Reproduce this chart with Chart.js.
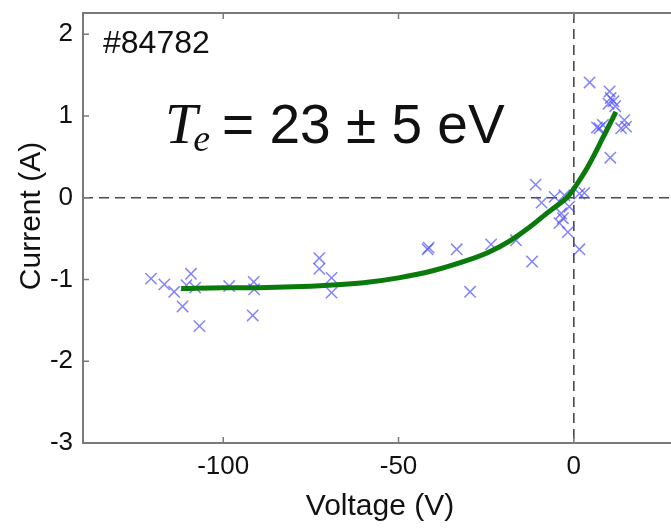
<!DOCTYPE html>
<html>
<head>
<meta charset="utf-8">
<script src="https://cdn.jsdelivr.net/npm/chart.js@4.4.0/dist/chart.umd.min.js"></script>
<style>
  html, body { margin: 0; padding: 0; background: #fff; overflow: hidden; }
  #wrap { width: 700px; height: 531px; }
</style>
</head>
<body>
<div id="wrap"><canvas id="c" width="700" height="531"></canvas></div>
<script>
// measured probe points (voltage in V, current in A)
const voltage = [-120.6, -116.8, -114.0, -111.6, -109.2, -106.8, -110.5, -108.0, -98.3, -91.3, -91.2, -91.6,
  -72.6, -72.6, -69.1, -69.1, -41.4, -41.7, -33.4, -29.6, -23.6, -16.5, -11.9, -10.9, -9.2, -5.5,
  -2.7, 1.6, 3.0, -3.6, -3.1, -4.1, -1.7, 1.6, -1.3, 4.5, 10.2, 10.5, 11.3, 9.9, 11.8, 7.3, 8.3,
  14.4, 14.9, 13.5, 10.4, 6.6];
const current = [-0.99, -1.06, -1.15, -1.33, -0.93, -1.57, -1.07, -1.10, -1.08, -1.03, -1.12, -1.44,
  -0.74, -0.87, -0.98, -1.16, -0.61, -0.63, -0.63, -1.15, -0.57, -0.52, -0.78, 0.16, -0.06, 0.01,
  0.03, 0.05, 0.06, -0.19, -0.25, -0.31, -0.42, -0.63, -0.11, 1.41, 1.30, 1.22, 1.18, 1.15, 1.12, 0.85, 0.89,
  0.95, 0.87, 0.85, 0.49, 0.86];

// fitted curve
const fitV = [-112, -100, -90, -80, -70, -60, -50, -40, -30, -24, -18, -12, -8, -4, -2, 0, 2, 4, 6, 8, 10, 12];
const fitI = [-1.11, -1.10, -1.10, -1.09, -1.07, -1.04, -0.98, -0.89, -0.76, -0.66, -0.52, -0.34, -0.20, -0.07, 0.0, 0.11, 0.24, 0.38, 0.54, 0.71, 0.88, 1.05];

const xTicks = [-100, -50, 0];
const yTicks = [-3, -2, -1, 0, 1, 2];

const FONT = "'Liberation Sans', Arial, sans-serif";
const frameColor = "#7a7a7a";

// cadre, graduations vers l'intérieur, axes en pointillés et textes
const decor = {
  id: "decor",
  beforeDatasetsDraw(chart) {
    const { ctx, chartArea: a, scales: { x, y } } = chart;
    ctx.save();
    ctx.strokeStyle = "#4a4a4a";
    ctx.lineWidth = 1.6;
    ctx.setLineDash([10, 6]);
    const x0 = x.getPixelForValue(0), y0 = y.getPixelForValue(0);
    ctx.beginPath();
    ctx.moveTo(x0, a.top); ctx.lineTo(x0, a.bottom);
    ctx.moveTo(a.left, y0); ctx.lineTo(a.right, y0);
    ctx.stroke();
    ctx.restore();
  },
  afterDraw(chart) {
    const { ctx, chartArea: a, scales: { x, y } } = chart;
    ctx.save();
    ctx.strokeStyle = frameColor;
    ctx.lineWidth = 2;
    ctx.strokeRect(a.left, a.top, a.right - a.left, a.bottom - a.top);
    ctx.lineWidth = 1.5;
    ctx.beginPath();
    xTicks.forEach(v => {
      const p = x.getPixelForValue(v);
      ctx.moveTo(p, a.bottom); ctx.lineTo(p, a.bottom - 6);
      ctx.moveTo(p, a.top); ctx.lineTo(p, a.top + 6);
    });
    yTicks.forEach(v => {
      const p = y.getPixelForValue(v);
      ctx.moveTo(a.left, p); ctx.lineTo(a.left + 6, p);
      ctx.moveTo(a.right, p); ctx.lineTo(a.right - 8, p);
    });
    ctx.stroke();

    ctx.fillStyle = "#111";
    ctx.textBaseline = "alphabetic";
    ctx.font = "32px " + FONT;
    ctx.fillText("#84782", a.left + 20, a.top + 40);

    let tx = a.left + 82, ty = a.top + 130;
    ctx.font = "italic 58px 'Liberation Serif', 'Times New Roman', serif";
    ctx.fillText("T", tx, ty);
    tx += ctx.measureText("T").width - 4;
    ctx.font = "italic 38px 'Liberation Serif', 'Times New Roman', serif";
    ctx.fillText("e", tx, ty + 8);
    tx += ctx.measureText("e").width + 12;
    ctx.font = "55px " + FONT;
    ctx.fillText("= 23 \u00b1 5 eV", tx, ty);

    // titres des axes
    ctx.font = "30px " + FONT;
    ctx.textAlign = "center";
    ctx.fillText("Voltage (V)", (a.left + a.right) / 2 - 1, a.bottom + 72);
    ctx.translate(a.left - 43, a.top + 203);
    ctx.rotate(-Math.PI / 2);
    ctx.fillText("Current (A)", 0, 0);
    ctx.restore();
  }
};

new Chart(document.getElementById("c"), {
  type: "scatter",
  data: {
    datasets: [
      {
        type: "line",
        data: fitV.map((v, i) => ({ x: v, y: fitI[i] })),
        borderColor: "#0a7a0a",
        borderWidth: 5,
        pointRadius: 0,
        tension: 0.4,
        order: 0
      },
      {
        data: voltage.map((v, i) => ({ x: v, y: current[i] })),
        pointStyle: "crossRot",
        pointRadius: 8,
        borderWidth: 1.5,
        borderColor: "rgba(80, 80, 255, 0.7)",
        backgroundColor: "rgba(80, 80, 255, 0.7)",
        order: 1
      }
    ]
  },
  options: {
    responsive: false,
    animation: false,
    layout: { padding: { left: 0, right: 21, top: 13, bottom: 0 } },
    plugins: { legend: { display: false }, tooltip: { enabled: false } },
    scales: {
      x: {
        type: "linear",
        min: -140,
        max: 30,
        afterBuildTicks: s => { s.ticks = xTicks.map(v => ({ value: v })); },
        afterFit: s => { s.height = 88; s.paddingLeft = 0; s.paddingRight = 0; },
        grid: { display: false, drawTicks: false },
        border: { display: false },
        ticks: { color: "#111", font: { family: FONT, size: 26 }, padding: 8 }
      },
      y: {
        type: "linear",
        min: -3,
        max: 2.26,
        afterBuildTicks: s => { s.ticks = yTicks.map(v => ({ value: v })); },
        afterFit: s => { s.width = 83; s.paddingTop = 0; s.paddingBottom = 0; },
        grid: { display: false, drawTicks: false },
        border: { display: false },
        ticks: { color: "#111", font: { family: FONT, size: 26 }, padding: 10 }
      }
    }
  },
  plugins: [decor]
});
</script>
</body>
</html>
